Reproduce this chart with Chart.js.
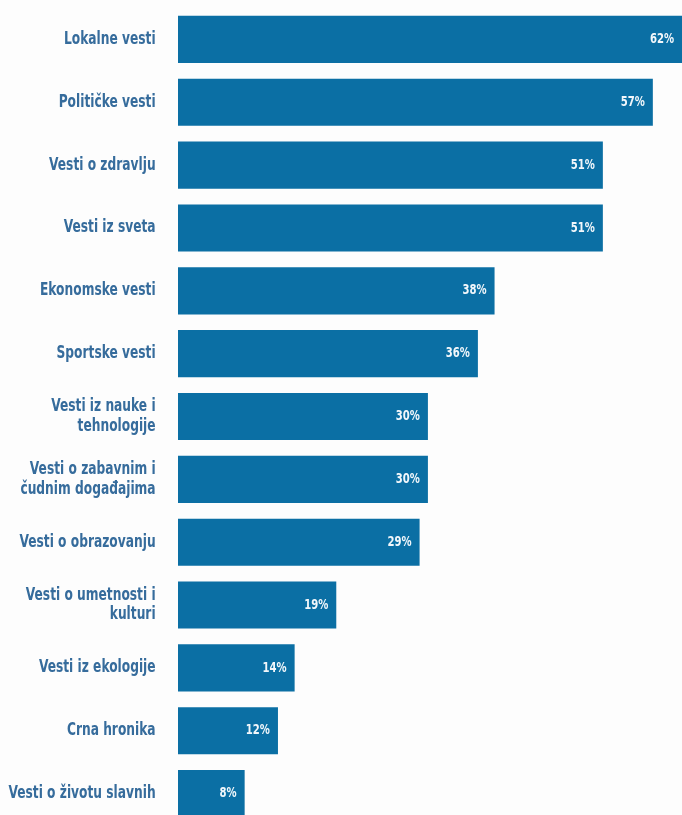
<!DOCTYPE html>
<html>
<head>
<meta charset="utf-8">
<script src="https://cdn.jsdelivr.net/npm/chart.js@4/dist/chart.umd.min.js"></script>
<style>
  html, body { margin: 0; padding: 0; background: #fdfdfd; overflow: hidden; }
  canvas { display: block; }
</style>
</head>
<body>
<canvas id="chart" width="682" height="825"></canvas>
<script>
// Teme vesti koje ispitanici prate (udeo u procentima)
const categories = [
  'Lokalne vesti',
  'Političke vesti',
  'Vesti o zdravlju',
  'Vesti iz sveta',
  'Ekonomske vesti',
  'Sportske vesti',
  ['Vesti iz nauke i', 'tehnologije'],
  ['Vesti o zabavnim i', 'čudnim događajima'],
  'Vesti o obrazovanju',
  ['Vesti o umetnosti i', 'kulturi'],
  'Vesti iz ekologije',
  'Crna hronika',
  'Vesti o životu slavnih'
];
const shares = [62, 57, 51, 51, 38, 36, 30, 30, 29, 19, 14, 12, 8];

const FONT = "'DejaVu Sans Condensed', 'Liberation Sans Narrow', 'DejaVu Sans', sans-serif";
const BAR_BLUE = '#0b6fa4';
const TEXT_BLUE = '#366c9c';
const SQUEEZE = 0.8;      // horizontal compression for the narrow headline look
const LABEL_PAD = 16;

// Category labels are drawn by the y scale itself, only narrowed horizontally
const narrowTicks = {
  id: 'narrowTicks',
  afterUpdate(chart) {
    const scale = chart.scales.y;
    if (!scale || scale._narrowed) return;
    const orig = scale.drawLabels;
    scale._computeLabelArea = () => undefined;   // no clipping of the squeezed labels
    scale.drawLabels = function (area) {
      const ctx = this.ctx;
      const ax = this.right - LABEL_PAD;
      ctx.save();
      ctx.translate(ax, 0);
      ctx.scale(SQUEEZE, 1);
      ctx.translate(-ax, 0);
      orig.call(this, area);
      ctx.restore();
    };
    scale._narrowed = true;
  }
};

// Percent labels drawn inside the end of each bar
const valueLabels = {
  id: 'valueLabels',
  afterDatasetsDraw(chart) {
    const { ctx, chartArea } = chart;
    const meta = chart.getDatasetMeta(0);
    ctx.save();
    ctx.font = 'bold 14px ' + FONT;
    ctx.fillStyle = '#f2f7fb';
    ctx.textAlign = 'right';
    ctx.textBaseline = 'middle';
    meta.data.forEach((bar, i) => {
      const end = Math.min(bar.x, chartArea.right) - 8;
      ctx.save();
      ctx.translate(end, bar.y);
      ctx.scale(SQUEEZE, 1);
      ctx.fillText(shares[i] + '%', 0, 0);
      ctx.restore();
    });
    ctx.restore();
  }
};

new Chart(document.getElementById('chart'), {
  type: 'bar',
  data: {
    labels: categories,
    datasets: [{
      data: shares,
      backgroundColor: BAR_BLUE,
      borderWidth: 0,
      barPercentage: 0.75,
      categoryPercentage: 1.0
    }]
  },
  options: {
    indexAxis: 'y',
    responsive: false,
    animation: false,
    layout: { padding: { top: 8, right: 0, bottom: 0, left: 0 } },
    plugins: {
      legend: { display: false },
      tooltip: { enabled: false }
    },
    scales: {
      x: {
        display: false,
        min: 0,
        max: 60.5
      },
      y: {
        grid: { display: false },
        border: { display: false },
        afterFit(scale) {
          scale.width = 178;
          scale.paddingTop = 0;
          scale.paddingBottom = 0;
        },
        ticks: {
          padding: LABEL_PAD,
          color: TEXT_BLUE,
          font: { family: FONT, size: 17, weight: 'bold', lineHeight: 1.15 }
        }
      }
    }
  },
  plugins: [narrowTicks, valueLabels]
});
</script>
</body>
</html>
